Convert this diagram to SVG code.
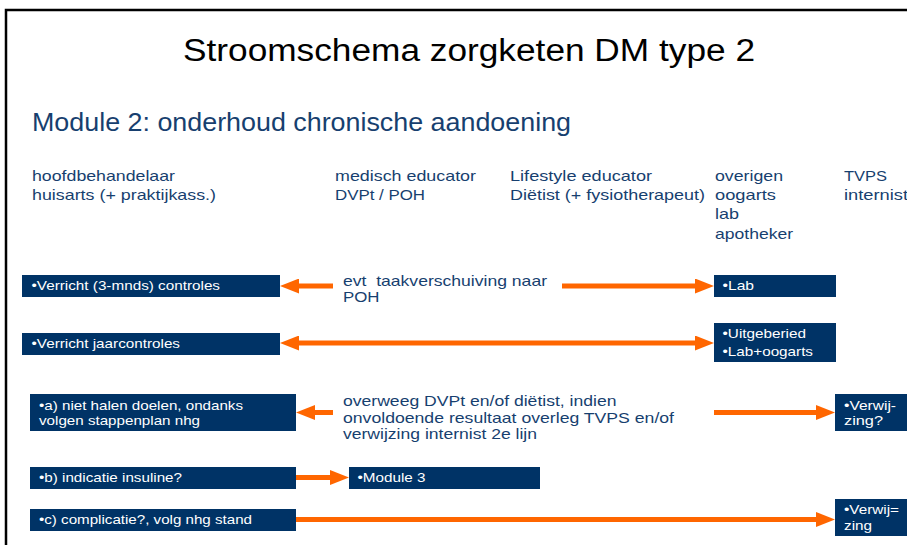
<svg xmlns="http://www.w3.org/2000/svg" width="907" height="545" viewBox="0 0 907 545">
<style>
text{font-family:"Liberation Sans",Arial,sans-serif;}
.title{font-size:31px;fill:#000;}
.sub{font-size:26px;fill:#173F6F;}
.hdr{font-size:15px;fill:#173F6F;}
.mid{font-size:15px;fill:#173F6F;}
.box{fill:#003366;}
.bt{font-size:13px;fill:#fff;}
.arr{stroke:#FF6600;stroke-width:5;fill:none;}
</style>
<defs>
<marker id="ah" markerUnits="userSpaceOnUse" markerWidth="19" markerHeight="15" refX="7" refY="7.5" orient="auto-start-reverse">
<path d="M0,0 L19,7.5 L0,15 Z" fill="#FF6600"/>
</marker>
</defs>
<rect x="0" y="0" width="907" height="545" fill="#fff"/>
<path d="M6,545 L6,10 L907,10" stroke="#000" stroke-width="2.5" fill="none"/>
<g id="titles">
<text class="title" x="183" y="61" textLength="572" lengthAdjust="spacingAndGlyphs">Stroomschema zorgketen DM type 2</text>
<text class="sub" x="32" y="131" textLength="539" lengthAdjust="spacingAndGlyphs">Module 2: onderhoud chronische aandoening</text>
</g>
<g id="headers">
<text class="hdr" x="32" y="180.5" textLength="143" lengthAdjust="spacingAndGlyphs">hoofdbehandelaar</text>
<text class="hdr" x="32" y="199.5" textLength="184" lengthAdjust="spacingAndGlyphs">huisarts (+ praktijkass.)</text>
<text class="hdr" x="335" y="180.5" textLength="141" lengthAdjust="spacingAndGlyphs">medisch educator</text>
<text class="hdr" x="335" y="199.5" textLength="90" lengthAdjust="spacingAndGlyphs">DVPt / POH</text>
<text class="hdr" x="510" y="180.5" textLength="142" lengthAdjust="spacingAndGlyphs">Lifestyle educator</text>
<text class="hdr" x="510" y="199.5" textLength="195" lengthAdjust="spacingAndGlyphs">Diëtist (+ fysiotherapeut)</text>
<text class="hdr" x="715" y="180.5" textLength="68" lengthAdjust="spacingAndGlyphs">overigen</text>
<text class="hdr" x="715" y="199.5" textLength="61" lengthAdjust="spacingAndGlyphs">oogarts</text>
<text class="hdr" x="715" y="219" textLength="24" lengthAdjust="spacingAndGlyphs">lab</text>
<text class="hdr" x="715" y="238.5" textLength="78" lengthAdjust="spacingAndGlyphs">apotheker</text>
<text class="hdr" x="844" y="180.5" textLength="43" lengthAdjust="spacingAndGlyphs">TVPS</text>
<text class="hdr" x="844" y="199.5" textLength="64" lengthAdjust="spacingAndGlyphs">internist</text>
</g>
<g id="connectors">
<line class="arr" x1="333" y1="286" x2="292" y2="286" marker-end="url(#ah)"/>
<line class="arr" x1="562" y1="286" x2="702" y2="286" marker-end="url(#ah)"/>
<line class="arr" x1="292" y1="343" x2="702" y2="343" marker-start="url(#ah)" marker-end="url(#ah)"/>
<line class="arr" x1="333" y1="412.5" x2="308" y2="412.5" marker-end="url(#ah)"/>
<line class="arr" x1="714" y1="412.5" x2="823" y2="412.5" marker-end="url(#ah)"/>
<line class="arr" x1="296" y1="477.5" x2="337" y2="477.5" marker-end="url(#ah)"/>
<line class="arr" x1="296" y1="519.5" x2="823" y2="519.5" marker-end="url(#ah)"/>
</g>
<g id="mid-labels">
<text class="mid" x="343" y="285.5" textLength="204" lengthAdjust="spacingAndGlyphs">evt&#160; taakverschuiving naar</text>
<text class="mid" x="343" y="302" textLength="36.5" lengthAdjust="spacingAndGlyphs">POH</text>
<text class="mid" x="343" y="406" textLength="273.5" lengthAdjust="spacingAndGlyphs">overweeg DVPt en/of diëtist, indien</text>
<text class="mid" x="343" y="422.5" textLength="331" lengthAdjust="spacingAndGlyphs">onvoldoende resultaat overleg TVPS en/of</text>
<text class="mid" x="343" y="439" textLength="194" lengthAdjust="spacingAndGlyphs">verwijzing internist 2e lijn</text>
</g>
<g id="n-3mnds">
<rect class="box" x="22" y="275" width="258" height="22"/>
<text class="bt" x="31.5" y="290" textLength="188.5" lengthAdjust="spacingAndGlyphs">•Verricht (3-mnds) controles</text>
</g>
<g id="n-jaar">
<rect class="box" x="22" y="333" width="258" height="22"/>
<text class="bt" x="31.5" y="348" textLength="148.5" lengthAdjust="spacingAndGlyphs">•Verricht jaarcontroles</text>
</g>
<g id="n-lab">
<rect class="box" x="714" y="275" width="122" height="22"/>
<text class="bt" x="722.5" y="290" textLength="31.5" lengthAdjust="spacingAndGlyphs">•Lab</text>
</g>
<g id="n-uitgeberied">
<rect class="box" x="714" y="323" width="122" height="39"/>
<text class="bt" x="722.5" y="338" textLength="83.5" lengthAdjust="spacingAndGlyphs">•Uitgeberied</text>
<text class="bt" x="722.5" y="356" textLength="90.5" lengthAdjust="spacingAndGlyphs">•Lab+oogarts</text>
</g>
<g id="n-a">
<rect class="box" x="30" y="394" width="266" height="37"/>
<text class="bt" x="39" y="409.5" textLength="204" lengthAdjust="spacingAndGlyphs">•a) niet halen doelen, ondanks</text>
<text class="bt" x="39" y="425" textLength="161" lengthAdjust="spacingAndGlyphs">volgen stappenplan nhg</text>
</g>
<g id="n-b">
<rect class="box" x="30" y="467" width="266" height="22"/>
<text class="bt" x="39" y="482" textLength="143" lengthAdjust="spacingAndGlyphs">•b) indicatie insuline?</text>
</g>
<g id="n-module3">
<rect class="box" x="349" y="467" width="191" height="22"/>
<text class="bt" x="357.5" y="482" textLength="68" lengthAdjust="spacingAndGlyphs">•Module 3</text>
</g>
<g id="n-c">
<rect class="box" x="30" y="509" width="266" height="22"/>
<text class="bt" x="39" y="524" textLength="213" lengthAdjust="spacingAndGlyphs">•c) complicatie?, volg nhg stand</text>
</g>
<g id="n-verwijzing1">
<rect class="box" x="835" y="394" width="80" height="37"/>
<text class="bt" x="844" y="409.5" textLength="52" lengthAdjust="spacingAndGlyphs">•Verwij-</text>
<text class="bt" x="844" y="425" textLength="39" lengthAdjust="spacingAndGlyphs">zing?</text>
</g>
<g id="n-verwijzing2">
<rect class="box" x="835" y="499" width="80" height="37"/>
<text class="bt" x="844" y="514" textLength="55" lengthAdjust="spacingAndGlyphs">•Verwij=</text>
<text class="bt" x="844" y="529.5" textLength="28" lengthAdjust="spacingAndGlyphs">zing</text>
</g>
</svg>
